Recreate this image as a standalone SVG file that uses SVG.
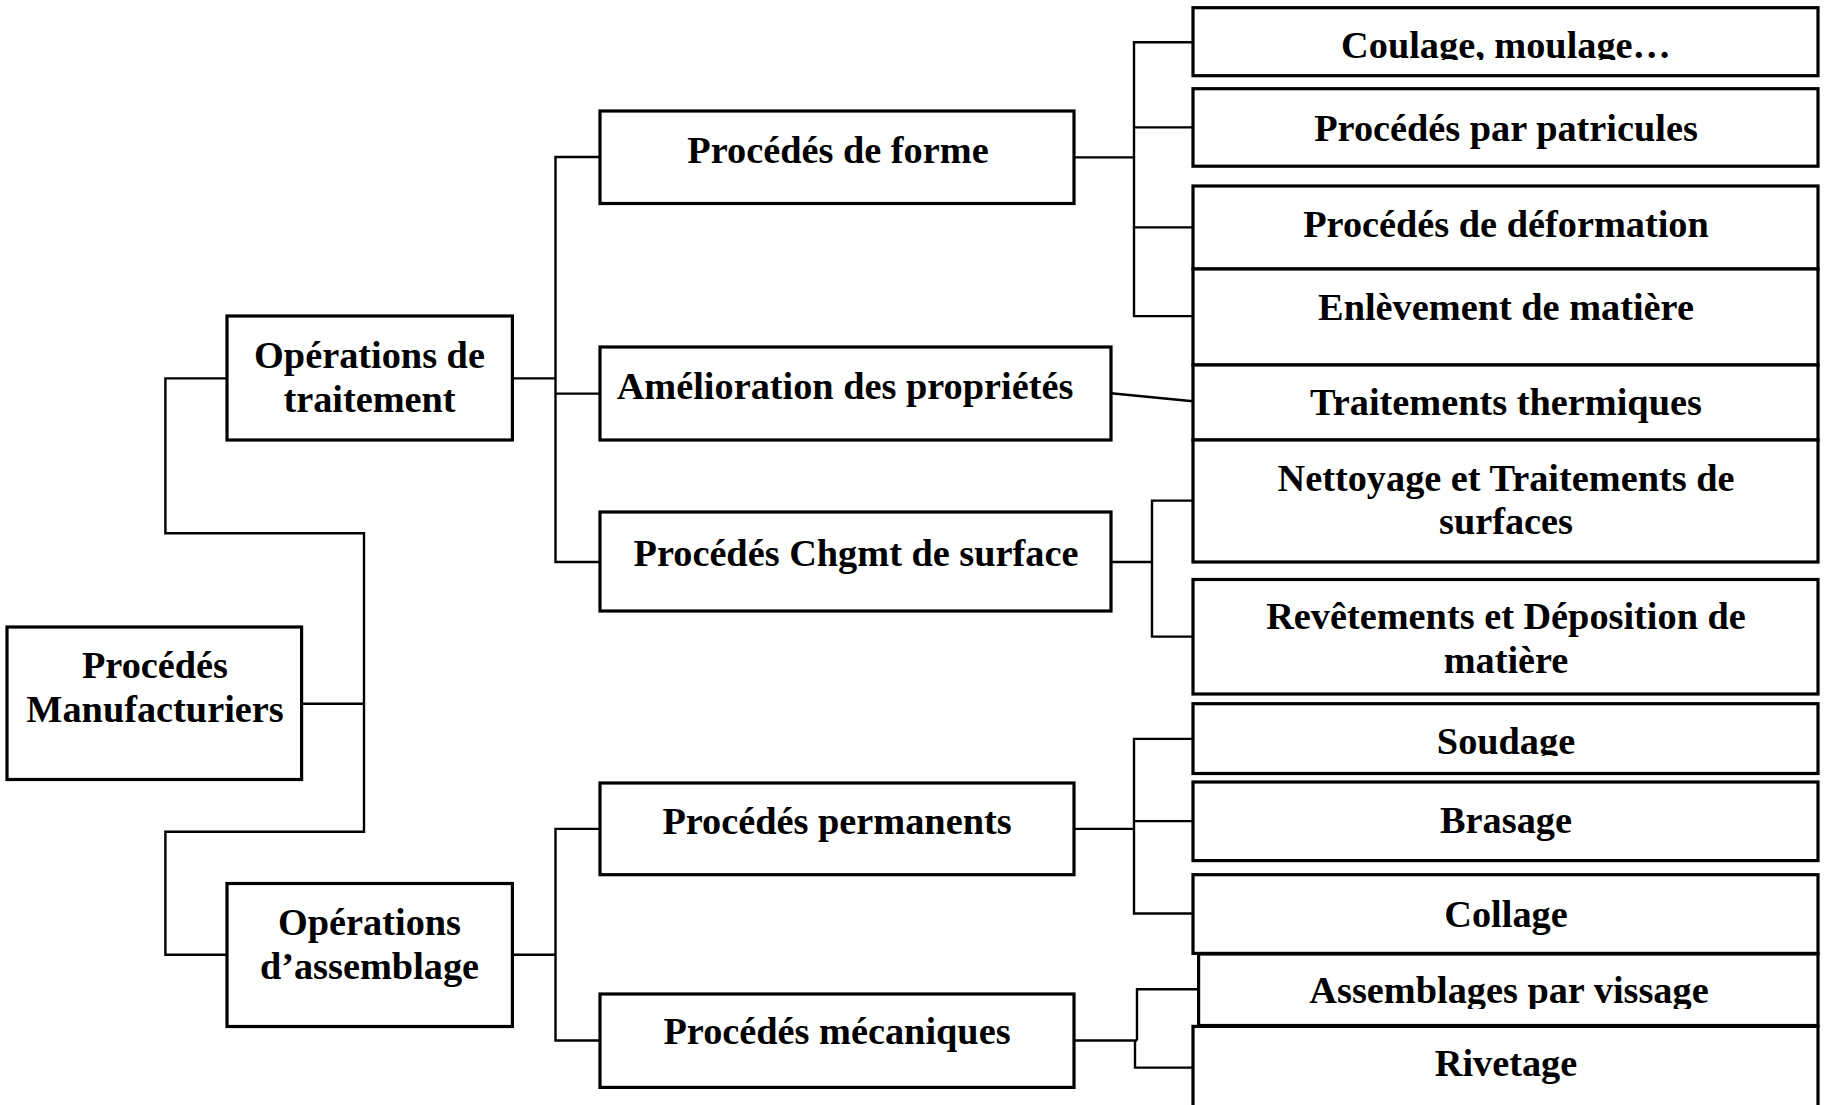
<svg xmlns="http://www.w3.org/2000/svg" width="1827" height="1105" viewBox="0 0 1827 1105">
<style>
.box{fill:#fff;stroke:#000;stroke-width:3.2}
.t{font-family:"Liberation Serif","Times New Roman",serif;font-weight:bold;font-size:38.3px;fill:#000;text-anchor:middle}
.c{fill:none;stroke:#000;stroke-width:2.4}
</style>
<defs>
<clipPath id="clipCoulage"><rect x="1193" y="8" width="625" height="52"/></clipPath>
<clipPath id="clipSoudage"><rect x="1193" y="704" width="625" height="52"/></clipPath>
<clipPath id="clipVissage"><rect x="1193" y="955" width="625" height="54"/></clipPath>
</defs>
<rect x="0" y="0" width="1827" height="1105" fill="#fff"/>
<g id="connectors">
<path class="c" d="M301.6 703.7 H364"/>
<path class="c" d="M227 378.4 H165.4 V533.3 H364 V831.7 H165.4 V954.8 H227"/>
<path class="c" d="M512 378.4 H555.5"/>
<path class="c" d="M600 157 H555.5 V562 H600"/>
<path class="c" d="M555.5 393.6 H600"/>
<path class="c" d="M512 954.8 H555.5"/>
<path class="c" d="M600 828.9 H555.5 V1040.5 H600"/>
<path class="c" d="M1074 157.4 H1134"/>
<path class="c" d="M1193 42.2 H1134 V316.1 H1193"/>
<path class="c" d="M1134 127.4 H1193"/>
<path class="c" d="M1134 227.4 H1193"/>
<path class="c" d="M1111 393.2 L1193 401.3"/>
<path class="c" d="M1111 562 H1152"/>
<path class="c" d="M1193 500.6 H1152 V636.6 H1193"/>
<path class="c" d="M1074 828.9 H1134"/>
<path class="c" d="M1193 738.9 H1134 V913.5 H1193"/>
<path class="c" d="M1134 821.1 H1193"/>
<path class="c" d="M1074 1040.5 H1137"/>
<path class="c" d="M1198.6 989.3 H1137 V1040.5"/>
<path class="c" d="M1135 1040.5 V1067.6 H1193"/>
</g>
<g id="manufacturiers"><rect class="box" x="7" y="627" width="294.6" height="152.5"/><text class="t" x="155" y="678.3">Procédés</text><text class="t" x="155" y="722.3">Manufacturiers</text></g>
<g id="op-traitement"><rect class="box" x="227" y="316" width="285.4" height="124"/><text class="t" x="369.5" y="367.9">Opérations de</text><text class="t" x="369.5" y="411.9">traitement</text></g>
<g id="op-assemblage"><rect class="box" x="227" y="883.5" width="285.4" height="143"/><text class="t" x="369.5" y="934.7">Opérations</text><text class="t" x="369.5" y="979.4">d’assemblage</text></g>
<g id="forme"><rect class="box" x="600" y="111" width="474" height="92.5"/><text class="t" x="838" y="162.7">Procédés de forme</text></g>
<g id="amelioration"><rect class="box" x="600" y="347" width="511" height="93"/><text class="t" x="845" y="398.9">Amélioration des propriétés</text></g>
<g id="chgmt"><rect class="box" x="600" y="512" width="511" height="99"/><text class="t" x="856" y="565.5">Procédés Chgmt de surface</text></g>
<g id="permanents"><rect class="box" x="600" y="783" width="474" height="91.7"/><text class="t" x="837" y="834">Procédés permanents</text></g>
<g id="mecaniques"><rect class="box" x="600" y="994" width="474" height="93.4"/><text class="t" x="837" y="1044">Procédés mécaniques</text></g>
<g id="coulage"><rect class="box" x="1193" y="7.7" width="625" height="68"/><text class="t" x="1506" y="58.1" clip-path="url(#clipCoulage)">Coulage, moulage…</text></g>
<g id="patricules"><rect class="box" x="1193" y="88.7" width="625" height="77.5"/><text class="t" x="1506" y="140.8">Procédés par patricules</text></g>
<g id="deformation"><rect class="box" x="1193" y="186" width="625" height="83"/><text class="t" x="1506" y="236.9">Procédés de déformation</text></g>
<g id="enlevement"><rect class="box" x="1193" y="269" width="625" height="96"/><text class="t" x="1506" y="319.7">Enlèvement de matière</text></g>
<g id="thermiques"><rect class="box" x="1193" y="365" width="625" height="75"/><text class="t" x="1506" y="414.7">Traitements thermiques</text></g>
<g id="nettoyage"><rect class="box" x="1193" y="440" width="625" height="122"/><text class="t" x="1506" y="491.1">Nettoyage et Traitements de</text><text class="t" x="1506" y="534.4">surfaces</text></g>
<g id="revetements"><rect class="box" x="1193" y="579.5" width="625" height="114.5"/><text class="t" x="1506" y="628.9">Revêtements et Déposition de</text><text class="t" x="1506" y="673">matière</text></g>
<g id="soudage"><rect class="box" x="1193" y="703.7" width="625" height="69.8"/><text class="t" x="1506" y="753.7" clip-path="url(#clipSoudage)">Soudage</text></g>
<g id="brasage"><rect class="box" x="1193" y="782" width="625" height="78.6"/><text class="t" x="1506" y="833.1">Brasage</text></g>
<g id="collage"><rect class="box" x="1193" y="874.7" width="625" height="78.7"/><text class="t" x="1506" y="926.5">Collage</text></g>
<g id="vissage"><rect class="box" x="1198.6" y="954" width="619.4" height="71.5"/><text class="t" x="1509" y="1003.4" clip-path="url(#clipVissage)">Assemblages par vissage</text></g>
<g id="rivetage"><rect class="box" x="1193" y="1026.4" width="625" height="90"/><text class="t" x="1506" y="1076.4">Rivetage</text></g>
</svg>
